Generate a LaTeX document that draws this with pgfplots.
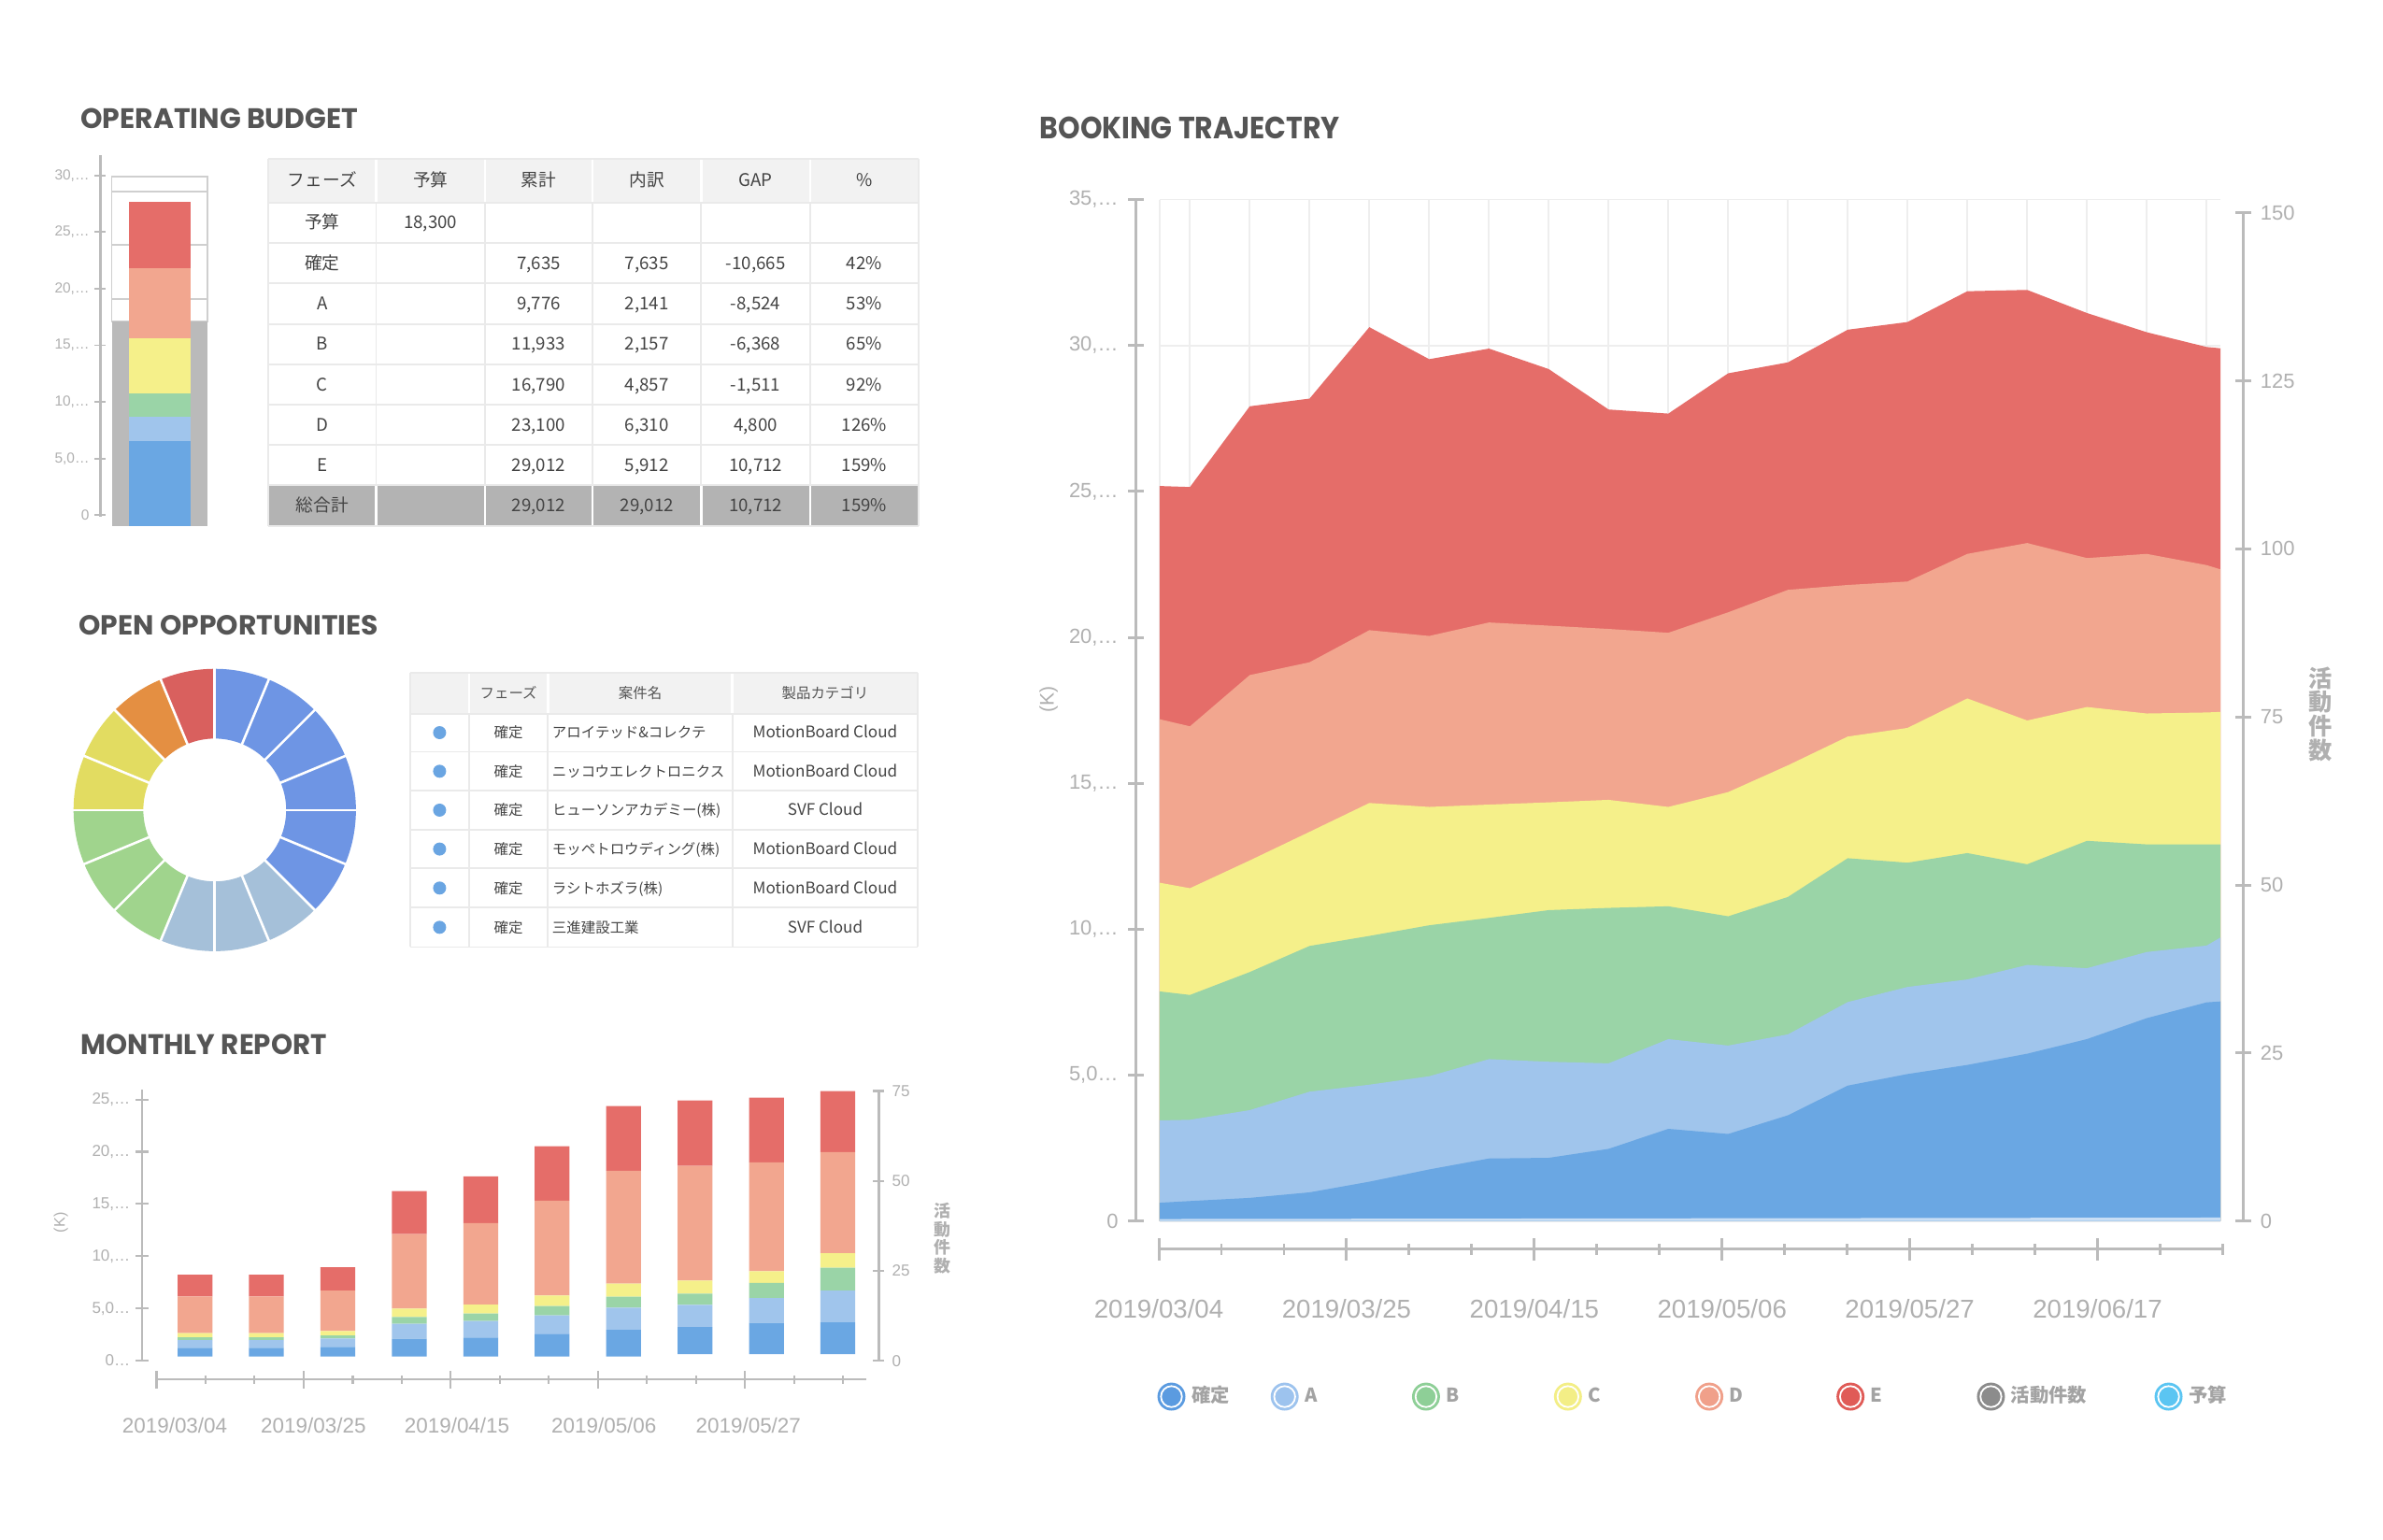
\documentclass[border=0pt]{standalone}
\usepackage{fontspec}
\usepackage{graphicx}
\usepackage{pgfplots}
\usepackage{pgfplotstable}
\pgfplotsset{compat=1.18}
\setmainfont{Liberation Sans}
\newfontfamily\jp{Noto Sans CJK JP}
\newfontfamily\titlef{Poppins}
\newcommand\lfs[2]{\fontsize{#1}{#2}\selectfont}

\definecolor{cK}{HTML}{6AA7E3}
\definecolor{cA}{HTML}{A0C5EC}
\definecolor{cB}{HTML}{9AD4A7}
\definecolor{cC}{HTML}{F5F08A}
\definecolor{cD}{HTML}{F2A68F}
\definecolor{cE}{HTML}{E56D69}
\definecolor{cStrip}{HTML}{C8DEF5}
\definecolor{axisgray}{HTML}{BBBBBB}
\definecolor{labgray}{HTML}{B0B0B0}
\definecolor{titlegray}{HTML}{555555}
\definecolor{gridgray}{HTML}{EEEEEE}
\definecolor{hdrbg}{HTML}{F2F2F2}
\definecolor{totbg}{HTML}{B3B3B3}
\definecolor{boxgray}{HTML}{BABABA}
\definecolor{boxline}{HTML}{CFCFCF}
\definecolor{tline}{HTML}{EAEAEA}
\definecolor{txt}{HTML}{444444}
\definecolor{leggray}{HTML}{A3A3A3}
\definecolor{dBlue}{HTML}{6E95E4}
\definecolor{dSteel}{HTML}{A5C0D9}
\definecolor{dGreen}{HTML}{A0D48D}
\definecolor{dYellow}{HTML}{E2DC61}
\definecolor{dOrange}{HTML}{E48F42}
\definecolor{dRed}{HTML}{D9605E}
\definecolor{dot}{HTML}{6AA5E2}
\definecolor{lK}{HTML}{5B9BE0}
\definecolor{lA}{HTML}{9DC3EE}
\definecolor{lB}{HTML}{8ECF97}
\definecolor{lC}{HTML}{F3EE86}
\definecolor{lD}{HTML}{F0A08A}
\definecolor{lE}{HTML}{E05B57}
\definecolor{lAct}{HTML}{8C8C8C}
\definecolor{lBud}{HTML}{5BC5F2}

\pgfplotsset{
  common/.style={scale only axis, clip=false, anchor=south west,
    axis line style={-}, tick align=outside, scaled ticks=false,
    /pgf/number format/assume math mode=true},
}

% Booking trajectory: cumulative tops of each layer (x in days from 2019/03/04)
\pgfplotstableread{
x K A B C D E
0 628 3449 7869 11593 17195 25185
3.40 686 3471 7747 11404 16951 25150
10.09 795 3801 8532 12355 18707 27915
16.79 984 4433 9426 13336 19146 28181
23.48 1349 4673 9769 14324 20245 30627
30.18 1769 4962 10134 14189 20047 29530
36.87 2144 5548 10387 14269 20509 29893
43.56 2167 5458 10653 14346 20400 29191
50.26 2474 5404 10730 14432 20288 27806
56.95 3160 6234 10785 14189 20156 27666
63.65 2984 6013 10442 14698 20858 29046
70.34 3625 6397 11105 15615 21627 29421
77.03 4641 7503 12432 16600 21794 30540
83.73 5038 8022 12278 16897 21913 30803
90.42 5349 8279 12608 17907 22859 31858
97.12 5734 8775 12224 17150 23231 31903
103.81 6234 8663 13028 17612 22715 31111
110.50 6952 9218 12906 17391 22859 30454
117.20 7493 9439 12906 17426 22474 29948
118.75 7525 9714 12906 17445 22329 29903
}\booking

% Monthly report: stacked segments
\pgfplotstableread{
x base K A B C D E
128.3 388 835 746 268 388 3520 2088
175.3 388 835 746 268 388 3520 2088
222.3 388 925 805 298 418 3878 2237
269.3 388 1700 1432 656 806 7129 4116
316.3 388 1819 1581 716 865 7786 4475
363.3 388 2177 1760 895 1015 9068 5220
410.3 388 2565 2118 1044 1253 10798 6205
457.3 626 2596 2118 1073 1253 10978 6264
504.3 626 2983 2387 1432 1133 10411 6205
551.3 626 3043 3043 2177 1402 9666 5847
}\monthly

\newcommand\brow[7]{%
  \node[tcell] at (212,#1) {#2};
  \node[tcell] at (283.3,#1) {#3};
  \node[tcell] at (354.5,#1) {#4};
  \node[tcell] at (425.65,#1) {#5};
  \node[tcell] at (497.2,#1) {#6};
  \node[tcell] at (568.75,#1) {#7};}
\newcommand\orow[3]{%
  \fill[dot] (289.25,#1) circle (4.3);
  \node[ocell] at (334.6,#1) {確定};
  \node[ocell, anchor=west] at (363.2,#1) {#2};
  \node[ocell, font=\jp\lfs{10.5}{11}] at (542.95,#1) {#3};}

\begin{document}
\begin{tikzpicture}[x=1pt,y=1pt,
  tcell/.style={font=\jp\lfs{11.5}{12}, text=txt, inner sep=0, anchor=center, text height=9pt, text depth=1pt},
  ocell/.style={font=\jp\lfs{9.5}{10}, text=txt, inner sep=0, anchor=center, text height=8pt, text depth=1pt}]
\path[use as bounding box] (0,0) rectangle (1568,1013);
\fill[white] (0,0) rectangle (1568,1013);

% ---------- titles ----------
\node[anchor=base west, inner sep=0, text=titlegray] at (52.8,928.5) {\resizebox{182.7pt}{13.2pt}{\titlef\bfseries OPERATING BUDGET}};
\node[anchor=base west, inner sep=0, text=titlegray] at (51.7,595.2) {\resizebox{197.2pt}{12.9pt}{\titlef\bfseries OPEN OPPORTUNITIES}};
\node[anchor=base west, inner sep=0, text=titlegray] at (52.8,319.1) {\resizebox{162pt}{13.3pt}{\titlef\bfseries MONTHLY REPORT}};
\node[anchor=base west, inner sep=0, text=titlegray] at (684,921.8) {\resizebox{197.6pt}{14.4pt}{\titlef\bfseries BOOKING TRAJECTRY}};

% ---------- operating budget bar ----------
\begin{axis}[common, at={(66pt,666.5pt)}, width=74pt, height=244.5pt,
  xmin=66, xmax=140, ymin=0, ymax=33193,
  axis x line=none, axis y line=left,
  y axis line style={-, draw=axisgray, line width=1.5pt, shorten <=6.5pt},
  ytick={1018,6077,11137,16196,21255,26315,31374},
  yticklabels={0,{5,0…},{10,…},{15,…},{20,…},{25,…},{30,…}},
  major tick length=7.5pt, ytick style={draw=axisgray, line width=1.2pt},
  yticklabel style={font=\lfs{9.5}{10}, text=labgray},
  ybar stacked, bar width=63]
\addplot[fill=boxgray, draw=none] coordinates {(105,18300)};
\addplot[fill=white, draw=boxline, line width=1.1pt] coordinates {(105,2000)};
\addplot[fill=white, draw=boxline, line width=1.1pt] coordinates {(105,4850)};
\addplot[fill=white, draw=boxline, line width=1.1pt] coordinates {(105,4750)};
\addplot[fill=white, draw=boxline, line width=1.1pt] coordinates {(105,1350)};
\end{axis}
\begin{axis}[common, at={(66pt,666.5pt)}, width=74pt, height=244.5pt,
  xmin=66, xmax=140, ymin=0, ymax=33193, hide axis, ybar stacked, bar width=40.5]
\addplot[fill=cK, draw=none] coordinates {(105,7635)};
\addplot[fill=cA, draw=none] coordinates {(105,2141)};
\addplot[fill=cB, draw=none] coordinates {(105,2157)};
\addplot[fill=cC, draw=none] coordinates {(105,4857)};
\addplot[fill=cD, draw=none] coordinates {(105,6310)};
\addplot[fill=cE, draw=none] coordinates {(105,5912)};
\end{axis}

% ---------- operating budget table ----------
\fill[hdrbg] (176.4,{1013-104.5}) rectangle (604.5,{1013-133.3});
\fill[totbg] (176.4,{1013-319.4}) rectangle (604.5,{1013-346});
\foreach \y in {104.5,133.3,159.9,186.6,213.2,239.9,266.5,292.8,319.4,346}
  \draw[tline, line width=1.2pt] (176.4,{1013-\y}) -- (604.5,{1013-\y});
\foreach \x in {176.4,247.5,319.1,389.9,461.4,533,604.5}
  \draw[tline, line width=1.2pt] (\x,{1013-104.5}) -- (\x,{1013-346});
\foreach \x in {247.5,319.1,389.9,461.4,533} {
  \draw[white, line width=1.5pt] (\x,{1013-105}) -- (\x,{1013-132.8});
  \draw[white, line width=1.5pt] (\x,{1013-320}) -- (\x,{1013-345.5});}
\begin{scope}[every node/.append style={text=titlegray}]
\brow{894.1}{フェーズ}{予算}{累計}{内訳}{GAP}{\%}
\end{scope}
\brow{866.4}{予算}{18,300}{}{}{}{}
\brow{839.75}{確定}{}{7,635}{7,635}{-10,665}{42\%}
\brow{813.1}{A}{}{9,776}{2,141}{-8,524}{53\%}
\brow{786.45}{B}{}{11,933}{2,157}{-6,368}{65\%}
\brow{759.8}{C}{}{16,790}{4,857}{-1,511}{92\%}
\brow{733.35}{D}{}{23,100}{6,310}{4,800}{126\%}
\brow{706.9}{E}{}{29,012}{5,912}{10,712}{159\%}
\begin{scope}[every node/.append style={text=white}]
\brow{680.3}{総合計}{}{29,012}{29,012}{10,712}{159\%}
\end{scope}

% ---------- open opportunities donut ----------
\begin{scope}[shift={(141.3,480)}]
\foreach \c [count=\i from 0] in {dBlue,dBlue,dBlue,dBlue,dBlue,dBlue,dSteel,dSteel,dSteel,dGreen,dGreen,dGreen,dYellow,dYellow,dOrange,dRed} {
  \pgfmathsetmacro\aa{90-22.5*\i}
  \pgfmathsetmacro\ab{90-22.5*(\i+1)}
  \fill[\c] (\aa:47) -- (\aa:92.9) arc[start angle=\aa, end angle=\ab, radius=92.9] -- (\ab:47) arc[start angle=\ab, end angle=\aa, radius=47] -- cycle;
}
\foreach \i in {0,...,15}
  \draw[white, line width=1.6pt] ({90-22.5*\i}:45) -- ({90-22.5*\i}:95);
\end{scope}

% ---------- open opportunities table ----------
\fill[hdrbg] (269.9,{1013-442.8}) rectangle (604,{1013-469.5});
\foreach \y in {442.8,469.5,494.7,520.3,545.9,571.5,597.2,623.2}
  \draw[tline, line width=1.2pt] (269.9,{1013-\y}) -- (604,{1013-\y});
\foreach \x in {269.9,308.6,360.6,481.9,604}
  \draw[tline, line width=1.2pt] (\x,{1013-442.8}) -- (\x,{1013-623.2});
\foreach \x in {308.6,360.6,481.9}
  \draw[white, line width=1.5pt] (\x,{1013-443.3}) -- (\x,{1013-469});
\node[ocell, text=titlegray] at (334.6,556.85) {フェーズ};
\node[ocell, text=titlegray] at (421.25,556.85) {案件名};
\node[ocell, text=titlegray] at (542.95,556.85) {製品カテゴリ};
\orow{530.9}{アロイテッド\&コレクテ}{MotionBoard Cloud}
\orow{505.5}{ニッコウエレクトロニクス}{MotionBoard Cloud}
\orow{479.9}{ヒューソンアカデミー(株)}{SVF Cloud}
\orow{454.3}{モッペトロウディング(株)}{MotionBoard Cloud}
\orow{428.65}{ラシトホズラ(株)}{MotionBoard Cloud}
\orow{402.8}{三進建設工業}{SVF Cloud}

% ---------- monthly report ----------
\begin{axis}[common, at={(93.5pt,117.7pt)}, width=484.7pt, height=178.3pt,
  xmin=93.5, xmax=578.2, ymin=0, ymax=25946,
  axis x line=none, axis y line=left,
  y axis line style={-, draw=axisgray, line width=1.5pt},
  ytick={0,5000,10000,15000,20000,25000},
  yticklabels={0…,{5,0…},{10,…},{15,…},{20,…},{25,…}},
  major tick length=8.6pt, ytick style={draw=axisgray, line width=1.3pt},
  yticklabel style={font=\lfs{10.5}{11}, text=labgray},
  ybar stacked, bar width=22.9]
\addplot[draw=none, fill=none] table[x=x,y=base]{\monthly};
\addplot[fill=cK, draw=none] table[x=x,y=K]{\monthly};
\addplot[fill=cA, draw=none] table[x=x,y=A]{\monthly};
\addplot[fill=cB, draw=none] table[x=x,y=B]{\monthly};
\addplot[fill=cC, draw=none] table[x=x,y=C]{\monthly};
\addplot[fill=cD, draw=none] table[x=x,y=D]{\monthly};
\addplot[fill=cE, draw=none] table[x=x,y=E]{\monthly};
\end{axis}
\begin{axis}[common, at={(93.5pt,117.5pt)}, width=484.7pt, height=177.6pt,
  xmin=93.5, xmax=578.2, ymin=0, ymax=75,
  axis x line=none, axis y line=right,
  y axis line style={-, draw=axisgray, line width=1.5pt},
  ytick={0,25,50,75},
  major tick length=7.5pt, ytick style={draw=axisgray, line width=1.3pt},
  yticklabel style={font=\lfs{10.5}{11}, text=labgray, xshift=1.5pt}]
\addplot[draw=none] coordinates {(100,0)};
\end{axis}
\begin{axis}[common, at={(103pt,105.3pt)}, width=467pt, height=10pt,
  xmin=0, xmax=467, ymin=0, ymax=1,
  axis y line=none, axis x line=bottom,
  x axis line style={-, draw=axisgray, line width=1.4pt},
  xtick={0,96.8,193.6,290.4,387.2}, xticklabels={},
  minor xtick={32.3,64.5,129.1,161.4,225.9,258.2,322.7,355,419.5,451.8},
  major tick length=11.7pt, minor tick length=5.5pt,
  xtick style={draw=axisgray, line width=1.3pt},
  extra x ticks={12,103.2,197.7,294.4,389.4},
  extra x tick labels={2019/03/04,2019/03/25,2019/04/15,2019/05/06,2019/05/27},
  extra x tick style={major tick length=0pt, xticklabel style={font=\lfs{13.8}{14}, text=labgray, yshift=-22pt}}]
\addplot[draw=none] coordinates {(0,0)};
\end{axis}
\node[rotate=90, font=\lfs{10}{10}, text=labgray] at (40,208.5) {(K)};
\node[align=center, font=\jp\bfseries\lfs{11}{12}, text=labgray, inner sep=0] at (620,198) {活\\動\\件\\数};

% ---------- booking trajectory ----------
\begin{axis}[common, at={(763pt,209.5pt)}, width=698pt, height=672.2pt,
  xmin=0, xmax=118.75, ymin=0, ymax=35000,
  axis line style={draw=none}, tick style={draw=none},
  xtick={0,3.40,10.09,16.79,23.48,30.18,36.87,43.56,50.26,56.95,63.65,70.34,77.03,83.73,90.42,97.12,103.81,110.50,117.20},
  ytick={0,5000,...,35000}, xticklabels={}, yticklabels={},
  grid=major, grid style={draw=gridgray, line width=1.1pt}]
\addplot[fill=cE, draw=none] table[x=x,y=E]{\booking} \closedcycle;
\addplot[fill=cD, draw=none] table[x=x,y=D]{\booking} \closedcycle;
\addplot[fill=cC, draw=none] table[x=x,y=C]{\booking} \closedcycle;
\addplot[fill=cB, draw=none] table[x=x,y=B]{\booking} \closedcycle;
\addplot[fill=cA, draw=none] table[x=x,y=A]{\booking} \closedcycle;
\addplot[fill=cK, draw=none] table[x=x,y=K]{\booking} \closedcycle;
\addplot[fill=cStrip, draw=none] coordinates {(0,70) (118.75,120)} \closedcycle;
\end{axis}
\begin{axis}[common, at={(747.5pt,209.5pt)}, width=1pt, height=672.2pt,
  xmin=0, xmax=1, ymin=0, ymax=35000,
  axis x line=none, axis y line=left,
  y axis line style={-, draw=axisgray, line width=2pt},
  ytick={0,5000,...,35000},
  yticklabels={0,{5,0…},{10,…},{15,…},{20,…},{25,…},{30,…},{35,…}},
  major tick length=10.5pt, ytick style={draw=axisgray, line width=1.8pt},
  yticklabel style={font=\lfs{13.5}{14}, text=labgray, xshift=-3pt}]
\addplot[draw=none] coordinates {(0,0)};
\end{axis}
\begin{axis}[common, at={(1475pt,209.5pt)}, width=1pt, height=663.5pt,
  xmin=0, xmax=1, ymin=0, ymax=150,
  axis x line=none, axis y line=right,
  y axis line style={-, draw=axisgray, line width=2pt},
  ytick={0,25,...,150},
  major tick length=10.7pt, ytick style={draw=axisgray, line width=1.8pt},
  yticklabel style={font=\lfs{13.5}{14}, text=labgray, xshift=2.5pt}]
\addplot[draw=none] coordinates {(0,0)};
\end{axis}
\begin{axis}[common, at={(762.5pt,191pt)}, width=700pt, height=10pt,
  xmin=0, xmax=119, ymin=0, ymax=1,
  axis y line=none, axis x line=bottom,
  x axis line style={-, draw=axisgray, line width=2pt},
  xtick={0,21,42,63,84,105},
  xticklabels={2019/03/04,2019/03/25,2019/04/15,2019/05/06,2019/05/27,2019/06/17},
  minor xtick={7,14,28,35,49,56,70,77,91,98,112,119},
  major tick length=14.8pt, minor tick length=7.3pt,
  xtick style={draw=axisgray, line width=1.8pt},
  xticklabel style={font=\lfs{17}{18}, text=labgray, yshift=-22pt}]
\addplot[draw=none] coordinates {(0,0)};
\end{axis}
\node[rotate=90, font=\lfs{13}{13}, text=labgray] at (690,553) {(K)};
\node[align=center, font=\jp\bfseries\lfs{15.5}{15.9}, text=labgray, inner sep=0] at (1526.7,543) {活\\動\\件\\数};

% legend
\foreach \x/\c/\t in {770.8/lK/確定, 845.3/lA/A, 938.3/lB/B, 1031.7/lC/C, 1124.7/lD/D, 1217.6/lE/E, 1310/lAct/活動件数, 1426.9/lBud/予算} {
  \fill[\c] (\x,94) circle (9.2);
  \draw[white, line width=1.1pt] (\x,94) circle (6.9);
  \node[anchor=west, inner sep=0, font=\jp\bfseries\lfs{12.5}{13}, text=leggray, text height=9pt, text depth=1.5pt] at (\x+13,94) {\t};
}
\end{tikzpicture}
\end{document}
